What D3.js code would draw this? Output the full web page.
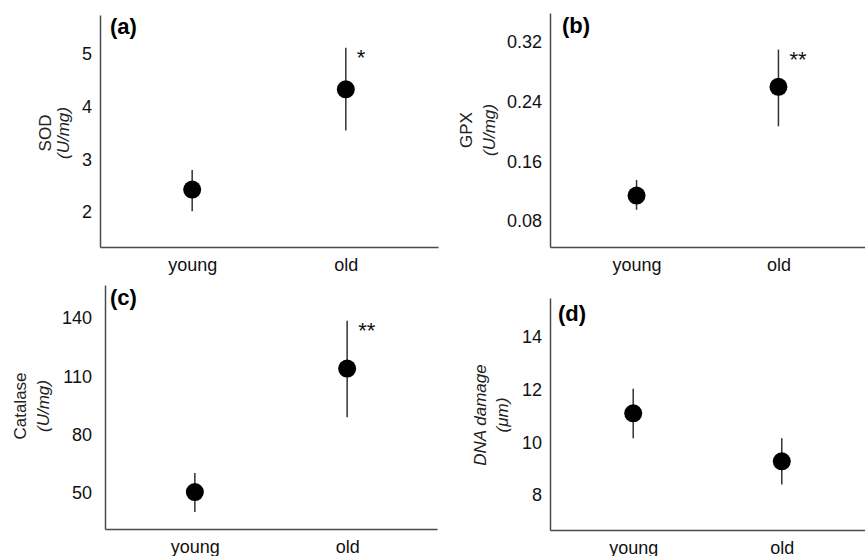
<!DOCTYPE html>
<html>
<head>
<meta charset="utf-8">
<script src="https://cdnjs.cloudflare.com/ajax/libs/d3/7.8.5/d3.min.js"></script>
<style>
  body { margin: 0; background: #fff; }
  svg text { font-family: "Liberation Sans", Arial, sans-serif; }
</style>
</head>
<body>
<div id="container"></div>
<script>
// data
var groups = ["young", "old"];

var sodMean = [2.43, 4.33];
var sodLow = [2.02, 3.55];
var sodHigh = [2.8, 5.12];
var sodTicks = [2, 3, 4, 5];
var sodStars = ["", "*"];

var gpxMean = [0.114, 0.26];
var gpxLow = [0.095, 0.207];
var gpxHigh = [0.135, 0.31];
var gpxTicks = [0.08, 0.16, 0.24, 0.32];
var gpxStars = ["", "**"];

var catMean = [50.5, 114];
var catLow = [40.2, 89];
var catHigh = [60.3, 138.6];
var catTicks = [50, 80, 110, 140];
var catStars = ["", "**"];

var dnaMean = [11.1, 9.28];
var dnaLow = [10.15, 8.4];
var dnaHigh = [12.03, 10.15];
var dnaTicks = [8, 10, 12, 14];
var dnaStars = ["", ""];

var svg = d3.select("#container")
  .append("svg")
  .attr("width", 865)
  .attr("height", 556);

// one panel = one small chart
function panel(p) {
  var x = d3.scalePoint().domain(groups).range([p.left, p.right]).padding(p.pad);
  var y = d3.scaleLinear().domain(p.ydom).range([p.bottom, p.top]);

  var rows = groups.map(function (g, i) {
    return { g: g, m: p.mean[i], lo: p.low[i], hi: p.high[i], s: p.stars[i] };
  });

  var yAxis = svg.append("g")
    .attr("transform", "translate(" + p.left + ",0)")
    .call(d3.axisLeft(y).tickValues(p.ticks).tickFormat(d3.format(p.fmt))
      .tickSizeInner(0).tickSizeOuter(0).tickPadding(p.tpad || 8));
  yAxis.select(".domain").attr("stroke", "#4a4a4a").attr("stroke-width", 1.5);
  yAxis.selectAll("text").style("font-size", "18px").attr("fill", "#111");

  var xAxis = svg.append("g")
    .attr("transform", "translate(0," + p.bottom + ")")
    .call(d3.axisBottom(x).tickSizeInner(0).tickSizeOuter(0).tickPadding(11));
  xAxis.select(".domain").attr("stroke", "#4a4a4a").attr("stroke-width", 1.5);
  xAxis.selectAll("text").style("font-size", "18px").attr("fill", "#111");

  svg.selectAll(null).data(rows).enter().append("line")
    .attr("x1", function (d) { return x(d.g); })
    .attr("x2", function (d) { return x(d.g); })
    .attr("y1", function (d) { return y(d.lo); })
    .attr("y2", function (d) { return y(d.hi); })
    .attr("stroke", "#333")
    .attr("stroke-width", 1.5);

  svg.selectAll(null).data(rows).enter().append("circle")
    .attr("cx", function (d) { return x(d.g); })
    .attr("cy", function (d) { return y(d.m); })
    .attr("r", 9)
    .attr("fill", "#000");

  svg.selectAll(null).data(rows).enter().append("text")
    .text(function (d) { return d.s; })
    .attr("x", function (d) { return x(d.g) + 11; })
    .attr("y", function (d) { return y(d.hi) + 17; })
    .style("font-size", "22px")
    .attr("fill", "#111");

  svg.append("text")
    .text(p.tag)
    .attr("x", p.left + p.tagdx)
    .attr("y", p.top + p.tagdy)
    .style("font-size", "22px")
    .style("font-weight", "bold")
    .attr("fill", "#000");

  p.ylab.forEach(function (t, i) {
    svg.append("text")
      .text(t)
      .attr("transform", "translate(" + p.labx[i] + "," + p.laby + ") rotate(-90)")
      .attr("text-anchor", "middle")
      .attr("dominant-baseline", "central")
      .style("font-size", "17px")
      .style("font-style", p.ital[i] ? "italic" : "normal")
      .attr("fill", "#222");
  });
}

panel({ left: 100, right: 438, top: 15, bottom: 247, pad: 0.6, ydom: [1.34, 5.74], fmt: "d",
  mean: sodMean, low: sodLow, high: sodHigh, ticks: sodTicks, stars: sodStars,
  tag: "(a)", tagdx: 10, tagdy: 19, ylab: ["SOD", "(U/mg)"], ital: [false, true], labx: [45, 63], laby: 133 });

panel({ left: 550, right: 865, top: 13, bottom: 247, pad: 0.61, ydom: [0.045, 0.359], fmt: ".2f",
  mean: gpxMean, low: gpxLow, high: gpxHigh, ticks: gpxTicks, stars: gpxStars,
  tag: "(b)", tagdx: 12, tagdy: 20, ylab: ["GPX", "(U/mg)"], ital: [false, true], labx: [466, 489], laby: 130 });

panel({ left: 105, right: 437, top: 285, bottom: 529, pad: 0.59, ydom: [31.5, 157], fmt: "d", tpad: 13,
  mean: catMean, low: catLow, high: catHigh, ticks: catTicks, stars: catStars,
  tag: "(c)", tagdx: 5, tagdy: 20, ylab: ["Catalase", "(U/mg)"], ital: [false, true], labx: [20, 43], laby: 406 });

panel({ left: 550, right: 865, top: 298, bottom: 530, pad: 0.56, ydom: [6.67, 15.48], fmt: "d",
  mean: dnaMean, low: dnaLow, high: dnaHigh, ticks: dnaTicks, stars: dnaStars,
  tag: "(d)", tagdx: 8, tagdy: 23, ylab: ["DNA damage", "(\u03bcm)"], ital: [true, true], labx: [480, 502], laby: 415 });
</script>
</body>
</html>
